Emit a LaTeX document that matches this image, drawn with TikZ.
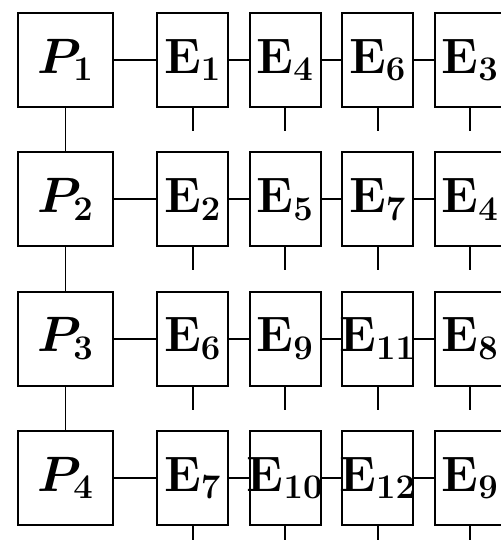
\documentclass[tikz,border=0pt]{standalone}
\usetikzlibrary{positioning}
\tikzset{
cell/.style={
  draw,
  line width=0.9pt,
  inner sep=0pt,
  minimum height=47pt,
  font=\fontsize{23}{27}\selectfont\boldmath
  },
pbox/.style={cell,minimum width=47.5pt},
ebox/.style={cell,minimum width=35.5pt},
link/.style={line width=0.9pt}
}

\begin{document}
\begin{tikzpicture}[x=0.5pt,y=-0.5pt]
\useasboundingbox (0,0) rectangle (501,540);

% one row per P, four E boxes each
\foreach \r/\ea/\eb/\ec/\ed in {1/1/4/6/3,2/2/5/7/4,3/6/9/11/8,4/7/10/12/9}{
  \node[pbox] (p\r) at (65.5,{60+139.3*(\r-1)}) {$P_{\r}$};
  \foreach \k/\n in {1/\ea,2/\eb,3/\ec,4/\ed}{
    \node[ebox] (e\r\k) at ({192.75+92.5*(\k-1)},{60+139.3*(\r-1)}) {\makebox[0pt]{$\mathbf{E}_{\n}$}};
    \coordinate (s\r\k) at ([yshift=-11.5pt]e\r\k.south);
    \draw[link] (e\r\k.south) -- (s\r\k);
  }
  \draw[link] (p\r) -- (e\r1);
  \draw[link] (e\r1) -- (e\r2);
  \draw[link] (e\r2) -- (e\r3);
  \draw[link] (e\r3) -- (e\r4);
}

\foreach \r [evaluate=\r as \s using int(\r+1)] in {1,2,3}
  \draw[link] (p\r) -- (p\s);

\end{tikzpicture}
\end{document}
